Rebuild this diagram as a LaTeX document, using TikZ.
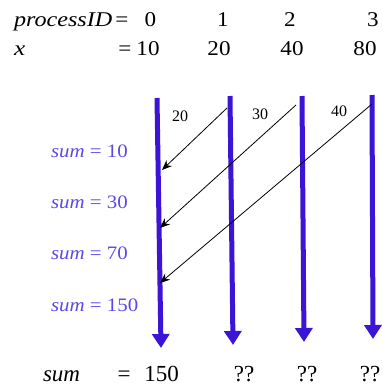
\documentclass[tikz,border=0pt]{standalone}
\usepackage{graphicx}
\usepackage{fontspec}
\setmainfont{Liberation Serif}
\usepackage{tikz}
\usetikzlibrary{arrows.meta}
\definecolor{procblue}{RGB}{59,20,214}
\definecolor{sumblue}{RGB}{92,74,232}
\newcommand{\wide}[2][1.1]{\scalebox{#1}[1]{#2}}

\begin{document}
\begin{tikzpicture}[x=1pt,y=-1pt,
  toptxt/.style={inner sep=0pt,outer sep=0pt,anchor=base,font=\fontsize{21}{25}\selectfont},
  sumtxt/.style={inner sep=0pt,outer sep=0pt,anchor=base west,text=sumblue,font=\fontsize{19}{23}\selectfont},
  msgtxt/.style={inner sep=0pt,outer sep=0pt,anchor=base,font=\fontsize{16}{19}\selectfont},
  bottxt/.style={inner sep=0pt,outer sep=0pt,anchor=base,font=\fontsize{23}{27}\selectfont},
  proc/.style={draw=procblue,line width=5pt,-{Triangle[length=14pt,width=17pt]}},
  msg/.style={draw=black,line width=0.8pt,-{Stealth[length=10pt,width=8pt]}}]
\path[use as bounding box] (0,0) rectangle (383,386);
\path[fill=white,draw=none] (0,0) rectangle (383,386);
% header rows
\node[toptxt,anchor=base west] (pidname) at (14,26) {\wide[1.15]{\textit{processID}}};
\node[toptxt] (pideq) at (122,26) {\wide{=}};
\node[toptxt] (pid0) at (150.5,26) {\wide{0}};
\node[toptxt] (pid1) at (223,26) {\wide{1}};
\node[toptxt] (pid2) at (290,26) {\wide{2}};
\node[toptxt] (pid3) at (373,26) {\wide{3}};
\node[toptxt,anchor=base west] (xname) at (14,55) {\wide[1.2]{\textit{x}}};
\node[toptxt] (xeq) at (125,55) {\wide{=}};
\node[toptxt] (x0) at (148,55) {\wide{10}};
\node[toptxt] (x1) at (219,55) {\wide{20}};
\node[toptxt] (x2) at (292,55) {\wide{40}};
\node[toptxt] (x3) at (365,55) {\wide{80}};
% process time lines
\coordinate (p0top) at (157,98);
\coordinate (p0end) at (161,348);
\coordinate (p1top) at (230,96);
\coordinate (p1end) at (233,345);
\coordinate (p2top) at (302,96);
\coordinate (p2end) at (304,342);
\coordinate (p3top) at (372,95);
\coordinate (p3end) at (373,339);
\draw[proc] (p0top) -- (p0end);
\draw[proc] (p1top) -- (p1end);
\draw[proc] (p2top) -- (p2end);
\draw[proc] (p3top) -- (p3end);
% messages
\coordinate (m1from) at (227,108);
\coordinate (m1to) at (162,170);
\coordinate (m2from) at (296,105);
\coordinate (m2to) at (160,228);
\coordinate (m3from) at (372,104);
\coordinate (m3to) at (160,283);
\draw[msg] (m1from) -- (m1to);
\draw[msg] (m2from) -- (m2to);
\draw[msg] (m3from) -- (m3to);
\node[msgtxt] (m1lab) at (180,121) {20};
\node[msgtxt] (m2lab) at (260,119) {30};
\node[msgtxt] (m3lab) at (339,116) {40};
% running sums
\node[sumtxt] (sum1) at (51,157) {\wide{\textit{sum} = 10}};
\node[sumtxt] (sum2) at (51,208) {\wide{\textit{sum} = 30}};
\node[sumtxt] (sum3) at (51,259) {\wide{\textit{sum} = 70}};
\node[sumtxt] (sum4) at (51,311) {\wide{\textit{sum} = 150}};
% result row
\node[bottxt,anchor=base west] (resname) at (43,381) {\textit{sum}};
\node[bottxt] (reseq) at (124,381) {=};
\node[bottxt] (res0) at (161.5,381) {150};
\node[bottxt] (res1) at (244,381) {??};
\node[bottxt] (res2) at (307,381) {??};
\node[bottxt] (res3) at (370,381) {??};
\end{tikzpicture}
\end{document}
